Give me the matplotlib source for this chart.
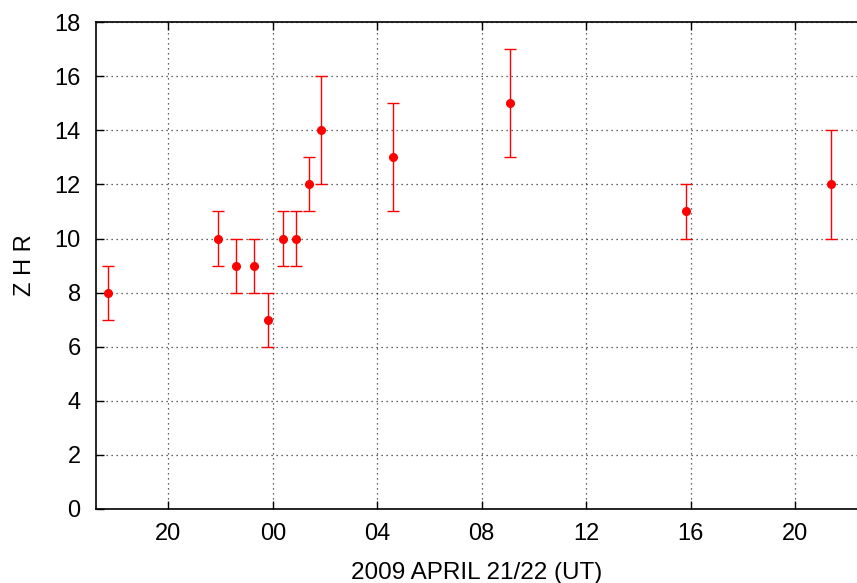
#!/usr/bin/env python3
import matplotlib
matplotlib.use("Agg")
import matplotlib.pyplot as plt

# hours since 00 UT on April 21 (24 = 00 UT April 22)
hours = [17.70, 21.92, 22.60, 23.29, 23.81, 24.38, 24.88, 25.38, 25.84, 28.59, 33.08, 39.81, 45.36]
zhr = [8, 10, 9, 9, 7, 10, 10, 12, 14, 13, 15, 11, 12]
zhr_err = [1, 1, 1, 1, 1, 1, 1, 1, 2, 2, 2, 1, 2]

tick_pos = [20, 24, 28, 32, 36, 40, 44]
tick_labels = ["20", "00", "04", "08", "12", "16", "20"]


def main() -> None:
    plt.rcParams['font.family'] = ['Liberation Sans', 'DejaVu Sans']

    fig = plt.figure(figsize=(8.57, 5.83), dpi=100)
    ax = fig.add_axes([0.112, 0.127, 0.888, 0.835])

    ax.errorbar(
        hours, zhr, yerr=zhr_err,
        fmt='o', color='#ff0000', ecolor='#ff0000',
        markersize=5.5, elinewidth=1.0, capsize=4, capthick=1.0)

    ax.set_xlim(17.23, 46.37)
    ax.set_ylim(0, 18)
    ax.set_xticks(tick_pos)
    ax.set_xticklabels(tick_labels)
    ax.set_yticks(range(0, 19, 2))

    ax.tick_params(axis='both', direction='in', length=6, width=1.0,
                   labelsize=17, top=True, right=False)
    ax.tick_params(axis='x', pad=10)
    ax.tick_params(axis='y', pad=11)
    ax.spines['right'].set_visible(False)
    for side in ['left', 'bottom', 'top']:
        ax.spines[side].set_linewidth(1.2)

    ax.grid(True, linestyle=(0, (1, 3)), color='black', linewidth=0.9, alpha=0.8)
    ax.set_axisbelow(True)

    ax.set_xlabel("2009 APRIL 21/22 (UT)", fontsize=17.5, labelpad=12)
    ax.set_ylabel("Z H R", fontsize=17, labelpad=13)

    fig.savefig("out.png", dpi=100)


if __name__ == '__main__':
    main()
